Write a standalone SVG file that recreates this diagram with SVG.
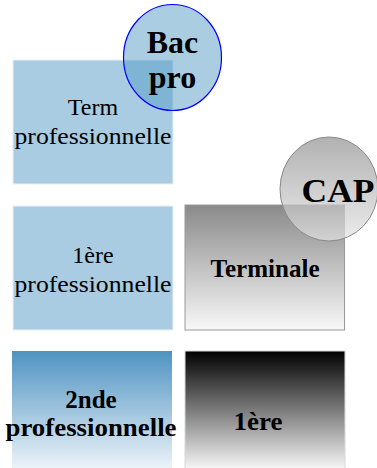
<svg xmlns="http://www.w3.org/2000/svg" width="377" height="468" viewBox="0 0 377 468">
<defs>
<linearGradient id="gTerm" x1="0" y1="0" x2="0" y2="1"><stop offset="0" stop-color="#8a8a8a"/><stop offset="1" stop-color="#f8f8f8"/></linearGradient>
<linearGradient id="gCap" x1="0" y1="0" x2="0" y2="1"><stop offset="0" stop-color="#909090"/><stop offset="1" stop-color="#e4e4e4"/></linearGradient>
<linearGradient id="gBlack" x1="0" y1="0" x2="0" y2="1"><stop offset="0" stop-color="#000000"/><stop offset="1" stop-color="#ffffff"/></linearGradient>
<linearGradient id="gBlue" x1="0" y1="0" x2="0" y2="1"><stop offset="0" stop-color="#4f93c1"/><stop offset="1" stop-color="#f2f7fb"/></linearGradient>
</defs>
<style>
text{font-family:"Liberation Serif","DejaVu Serif",serif;fill:#000;text-anchor:middle}
.r{font-size:24px}
.b{font-weight:bold;font-size:25px}
.big{font-weight:bold;font-size:32px}
.lb{fill:#a9cce2;stroke:#e8f0f6;stroke-width:1}
</style>
<g id="term-pro">
<rect class="lb" x="13" y="60" width="160" height="124"/>
<text class="r" x="93" y="115">Term</text>
<text class="r" x="93" y="144" textLength="157" lengthAdjust="spacingAndGlyphs">professionnelle</text>
</g>
<g id="bac-pro">
<ellipse cx="172.5" cy="57.5" rx="49" ry="53" fill="#579bc5" fill-opacity="0.5" stroke="#0000ff" stroke-width="1.2"/>
<text class="big" x="172.5" y="53">Bac</text>
<text class="big" x="172.5" y="88">pro</text>
</g>
<g id="premiere-pro">
<rect class="lb" x="13" y="206" width="160" height="124"/>
<text class="r" x="93" y="263">1ère</text>
<text class="r" x="93" y="292" textLength="157" lengthAdjust="spacingAndGlyphs">professionnelle</text>
</g>
<g id="terminale">
<rect x="185" y="205" width="159.5" height="125" fill="url(#gTerm)" stroke="#9a9a9a" stroke-width="1"/>
<text class="b" x="265" y="277" textLength="109" lengthAdjust="spacingAndGlyphs">Terminale</text>
</g>
<g id="cap">
<ellipse cx="329" cy="189" rx="49" ry="52" fill="url(#gCap)" fill-opacity="0.7" stroke="#8a8a8a" stroke-width="1"/>
<text class="big" x="338" y="202" style="font-size:33px" textLength="73" lengthAdjust="spacingAndGlyphs">CAP</text>
</g>
<g id="seconde-pro">
<rect x="12" y="351" width="160" height="122" fill="url(#gBlue)"/>
<text class="b" x="91" y="408">2nde</text>
<text class="b" x="91" y="436" textLength="171" lengthAdjust="spacingAndGlyphs">professionnelle</text>
</g>
<g id="premiere">
<rect x="185" y="351" width="160" height="122" fill="url(#gBlack)" stroke="#d8d8d8" stroke-width="1"/>
<text class="b" x="258" y="430" textLength="49" lengthAdjust="spacingAndGlyphs">1ère</text>
</g>
<g id="connectors"></g>
</svg>
